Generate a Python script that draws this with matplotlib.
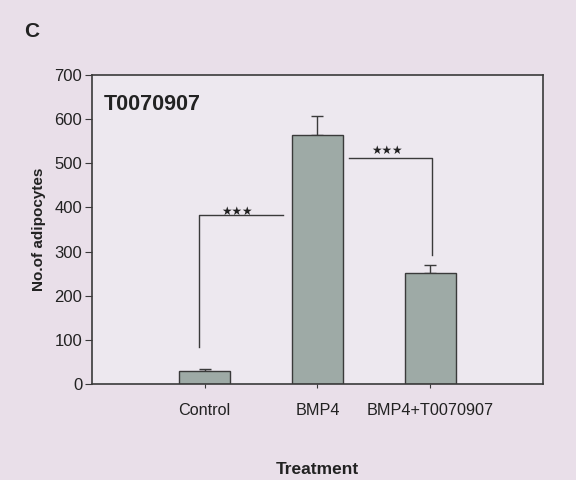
import matplotlib
matplotlib.use("Agg")
import matplotlib.pyplot as plt
import numpy as np

categories = ["Control", "BMP4", "BMP4+T0070907"]
means = [30, 565, 252]
errors = [5, 43, 18]
yticks = [0, 100, 200, 300, 400, 500, 600, 700]

plt.rcParams['font.family'] = ['Liberation Sans', 'DejaVu Sans']

fig = plt.figure(figsize=(5.76, 4.8), dpi=100)
fig.patch.set_facecolor('#e9dfe9')
ax = fig.add_axes([0.1597, 0.2, 0.783, 0.64375])
ax.set_facecolor('#ede8ef')

x = np.arange(len(categories))
ax.bar(x, means, width=0.45, color='#9eaaa6', edgecolor='#3a3a3a', linewidth=1.0, zorder=2)
ax.errorbar(x, means, yerr=[np.zeros(3), errors], fmt='none', ecolor='#3a3a3a',
            elinewidth=1.0, capsize=4, capthick=1.0, zorder=1)

ax.set_xlim(-1, 3)
ax.set_ylim(0, 700)
ax.set_yticks(yticks)
ax.set_xticks(x)
ax.set_xticklabels(categories, fontsize=11.7)
ax.tick_params(axis='y', labelsize=12, length=5, direction='out', color='#3a3a3a',
               labelcolor='#222222', pad=2)
ax.tick_params(axis='x', length=3, direction='out', color='#3a3a3a', labelcolor='#222222', pad=11)
for s in ax.spines.values():
    s.set_color('#3a3a3a')
    s.set_linewidth(1.2)

ax.set_ylabel('No.of adipocytes', fontsize=11, fontweight='bold', color='#222222', labelpad=6)
ax.set_xlabel('Treatment', fontsize=12.5, fontweight='bold', color='#222222', labelpad=31)

# significance brackets
lc = '#3a3a3a'
ax.plot([-0.05, -0.05, 0.69], [84, 383, 383], color=lc, lw=1.0)
ax.text(0.285, 391, '★★★', ha='center', va='center', fontsize=8.5, color='#222222',
        family='DejaVu Sans')
ax.plot([1.28, 2.02, 2.02], [512, 512, 292], color=lc, lw=1.0)
ax.text(1.62, 529, '★★★', ha='center', va='center', fontsize=8.5, color='#222222',
        family='DejaVu Sans')

ax.text(0.025, 0.905, 'T0070907', transform=ax.transAxes, fontsize=15.5, fontweight='bold',
        color='#222222', ha='left', va='center')

fig.text(0.055, 0.935, 'C', fontsize=15, fontweight='bold', color='#222222', ha='center', va='center')

fig.savefig('out.png', dpi=100, facecolor=fig.get_facecolor())
